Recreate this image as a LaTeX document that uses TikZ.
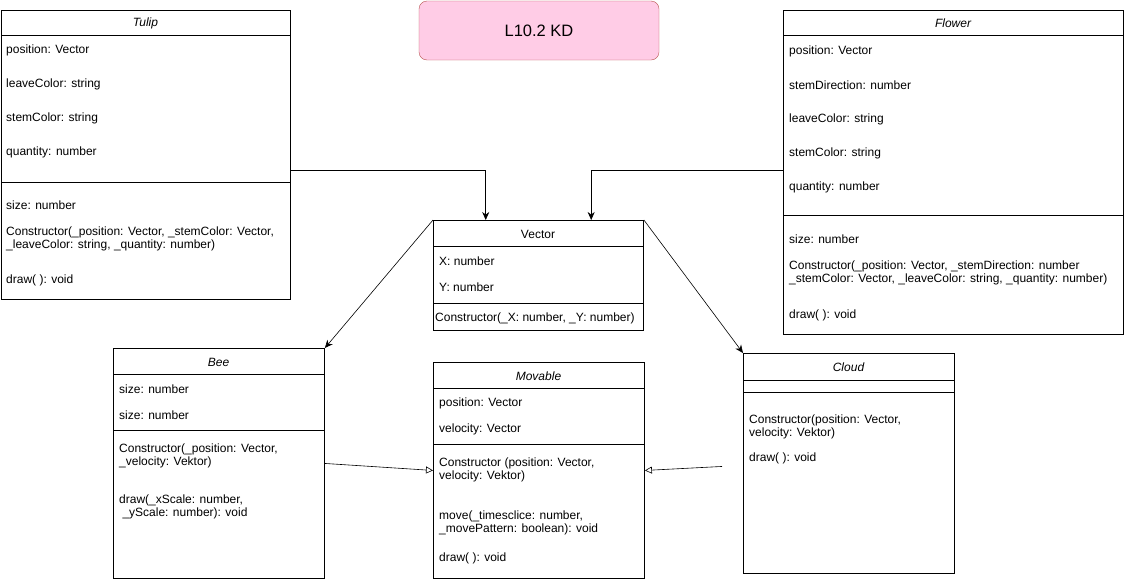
\documentclass[tikz,border=0pt]{standalone}
\usepackage{fontspec}
\setmainfont{Liberation Sans}
\usetikzlibrary{positioning, calc, arrows.meta}

\begin{document}
\begin{tikzpicture}[
    x=1pt, y=-1pt,
    every node/.style={font=\fontsize{12}{12.8}\selectfont},
    cls/.style={draw,line width=0.9pt,anchor=north west,inner sep=0pt,fill=white},
    head/.style={font=\fontsize{12}{12.8}\selectfont\itshape,yshift=-1pt},
    attr/.style={anchor=west,inner sep=0pt,align=left,yshift=-1.5pt},
    sep/.style={line width=0.9pt},
    title/.style={draw={rgb,255:red,184;green,84;blue,80},fill={rgb,255:red,255;green,204;blue,230},
      rounded corners=8pt,minimum width=240pt,minimum height=59pt,font=\fontsize{16.5}{18}\selectfont},
    assoc/.style={-{Stealth[length=8pt,width=7pt]},line width=0.6pt},
    inherit/.style={-{Triangle[open,length=7pt,width=7pt]},line width=0.6pt}
  ]
  \useasboundingbox (0,0) rectangle (1124,579);

  \node[title] (ttl) at (539,30.5) {L10.2 KD};

  % class boxes
  \node[cls,minimum width=289pt,minimum height=289pt] (tulip) at (1,10) {};
  \node[cls,minimum width=340pt,minimum height=324pt] (flower) at (783,10) {};
  \node[cls,minimum width=210pt,minimum height=110pt] (vec) at (433,220) {};
  \node[cls,minimum width=211pt,minimum height=230pt] (bee) at (113,348) {};
  \node[cls,minimum width=211pt,minimum height=216pt] (mov) at (433,362) {};
  \node[cls,minimum width=211pt,minimum height=220pt] (cloud) at (743,353) {};

  \foreach \n/\d in {tulip/25, tulip/172, flower/25, flower/205, vec/26, vec/83,
                     bee/26, bee/82, mov/26, mov/82, cloud/27, cloud/39}
    \draw[sep] ($(\n.north west)+(0,\d)$) -- ($(\n.north east)+(0,\d)$);

  % Tulip
  \node[head] (tulip-h) at (145.5,22.5) {Tulip};
  \node[attr] (tulip-a1) at (6,49) {position: Vector};
  \node[attr] (tulip-a2) at (6,83) {leaveColor: string};
  \node[attr] (tulip-a3) at (6,117) {stemColor: string};
  \node[attr] (tulip-a4) at (6,151) {quantity: number};
  \node[attr] (tulip-m1) at (6,204) {size: number};
  \node[attr] (tulip-m2) at (6,237) {Constructor(\_position: Vector, \_stemColor: Vector,\\ \_leaveColor: string, \_quantity: number)};
  \node[attr] (tulip-m3) at (6,279) {draw( ): void};

  % Flower
  \node[head] (flower-h) at (953,22.5) {Flower};
  \node[attr] (flower-a1) at (789,50) {position: Vector};
  \node[attr] (flower-a2) at (789,84) {stemDirection: number};
  \node[attr] (flower-a3) at (789,118) {leaveColor: string};
  \node[attr] (flower-a4) at (789,152) {stemColor: string};
  \node[attr] (flower-a5) at (789,186) {quantity: number};
  \node[attr] (flower-m1) at (789,238) {size: number};
  \node[attr] (flower-m2) at (789,271) {Constructor(\_position: Vector, \_stemDirection: number\\ \_stemColor: Vector, \_leaveColor: string, \_quantity: number)};
  \node[attr] (flower-m3) at (789,314) {draw( ): void};

  % Vector
  \node[yshift=-1pt] (vec-h) at (538,233) {Vector};
  \node[attr] (vec-a1) at (439,260) {X: number};
  \node[attr] (vec-a2) at (439,286) {Y: number};
  \node[attr] (vec-m1) at (435,317) {Constructor(\_X: number, \_Y: number)};

  % Bee
  \node[head] (bee-h) at (218.5,361) {Bee};
  \node[attr] (bee-a1) at (119,388) {size: number};
  \node[attr] (bee-a2) at (119,414) {size: number};
  \node[attr] (bee-m1) at (119,454.5) {Constructor(\_position: Vector,\\ \_velocity: Vektor)};
  \node[attr] (bee-m2) at (119,505) {draw(\_xScale: number,\\ \ \_yScale: number): void};

  % Movable
  \node[head] (mov-h) at (538.5,375) {Movable};
  \node[attr] (mov-a1) at (439,402) {position: Vector};
  \node[attr] (mov-a2) at (439,428) {velocity: Vector};
  \node[attr] (mov-m1) at (439,468.5) {Constructor (position: Vector,\\ velocity: Vektor)};
  \node[attr] (mov-m2) at (439,521.5) {move(\_timesclice: number,\\ \_movePattern: boolean): void};
  \node[attr] (mov-m3) at (439,557) {draw( ): void};

  % Cloud
  \node[head] (cloud-h) at (848.5,366.5) {Cloud};
  \node[attr] (cloud-m1) at (749,425) {Constructor(position: Vector,\\ velocity: Vektor)};
  \node[attr] (cloud-m2) at (749,457) {draw( ): void};

  % connectors
  \draw[assoc] ($(tulip.north east)+(0,160)$) -| ($(vec.north west)!0.25!(vec.north east)$);
  \draw[assoc] ($(flower.north west)+(0,160)$) -| ($(vec.north west)!0.75!(vec.north east)$);
  \draw[assoc] (vec.north west) -- (bee.north east);
  \draw[assoc] (vec.north east) -- (cloud.north west);
  \draw[inherit] (bee.east) -- (mov.west);
  \coordinate (cfree) at ($(cloud.west)+(-21,3)$);
  \draw[inherit] (cfree) -- (mov.east);
\end{tikzpicture}
\end{document}
